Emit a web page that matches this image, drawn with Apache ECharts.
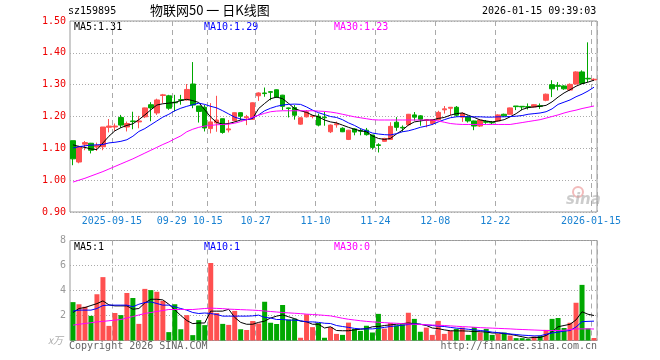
<!DOCTYPE html>
<html><head><meta charset="utf-8">
<script src="https://cdn.jsdelivr.net/npm/echarts@6/dist/echarts.min.js"></script>
<style>html,body{margin:0;padding:0;background:#fff}#c{width:660px;height:360px}</style>
</head><body><div id="c"></div>
<script>
const dates = ['2025-09-04','2025-09-05','2025-09-08','2025-09-09','2025-09-10','2025-09-11','2025-09-12','2025-09-15','2025-09-16','2025-09-17','2025-09-18','2025-09-19','2025-09-22','2025-09-23','2025-09-24','2025-09-25','2025-09-26','2025-09-29','2025-09-30','2025-10-09','2025-10-10','2025-10-13','2025-10-14','2025-10-15','2025-10-16','2025-10-17','2025-10-20','2025-10-21','2025-10-22','2025-10-23','2025-10-24','2025-10-27','2025-10-28','2025-10-29','2025-10-30','2025-10-31','2025-11-03','2025-11-04','2025-11-05','2025-11-06','2025-11-07','2025-11-10','2025-11-11','2025-11-12','2025-11-13','2025-11-14','2025-11-17','2025-11-18','2025-11-19','2025-11-20','2025-11-21','2025-11-24','2025-11-25','2025-11-26','2025-11-27','2025-11-28','2025-12-01','2025-12-02','2025-12-03','2025-12-04','2025-12-05','2025-12-08','2025-12-09','2025-12-10','2025-12-11','2025-12-12','2025-12-15','2025-12-16','2025-12-17','2025-12-18','2025-12-19','2025-12-22','2025-12-23','2025-12-24','2025-12-25','2025-12-26','2025-12-29','2025-12-30','2025-12-31','2026-01-05','2026-01-06','2026-01-07','2026-01-08','2026-01-09','2026-01-12','2026-01-13','2026-01-14','2026-01-15'];
const opens = [1.124,1.057,1.113,1.116,1.104,1.105,1.166,1.167,1.197,1.167,1.186,1.183,1.199,1.237,1.211,1.266,1.265,1.245,1.253,1.252,1.302,1.233,1.229,1.162,1.180,1.193,1.158,1.187,1.212,1.196,1.191,1.265,1.274,1.278,1.284,1.267,1.227,1.228,1.176,1.199,1.200,1.201,1.198,1.152,1.174,1.163,1.128,1.161,1.156,1.157,1.142,1.111,1.122,1.128,1.182,1.166,1.174,1.205,1.202,1.188,1.178,1.190,1.221,1.226,1.229,1.198,1.199,1.186,1.170,1.184,1.182,1.186,1.207,1.207,1.233,1.232,1.231,1.230,1.234,1.251,1.300,1.297,1.296,1.283,1.302,1.340,1.320,1.315];
const closes = [1.067,1.106,1.118,1.094,1.109,1.167,1.170,1.170,1.173,1.178,1.184,1.186,1.227,1.227,1.252,1.268,1.226,1.243,1.251,1.285,1.236,1.216,1.164,1.183,1.189,1.150,1.161,1.212,1.201,1.199,1.243,1.274,1.272,1.276,1.261,1.232,1.225,1.204,1.196,1.215,1.202,1.173,1.196,1.173,1.177,1.152,1.157,1.151,1.154,1.143,1.103,1.109,1.131,1.169,1.166,1.164,1.207,1.198,1.191,1.190,1.190,1.213,1.224,1.229,1.204,1.210,1.186,1.170,1.189,1.182,1.180,1.205,1.202,1.227,1.231,1.230,1.229,1.237,1.232,1.270,1.287,1.295,1.287,1.301,1.340,1.304,1.318,1.317];
const lows = [1.047,1.053,1.094,1.084,1.092,1.094,1.150,1.155,1.165,1.153,1.160,1.163,1.195,1.185,1.205,1.242,1.221,1.216,1.237,1.250,1.226,1.181,1.153,1.147,1.152,1.146,1.150,1.184,1.189,1.173,1.189,1.249,1.262,1.251,1.258,1.220,1.197,1.190,1.174,1.197,1.194,1.169,1.171,1.148,1.165,1.151,1.126,1.141,1.141,1.140,1.096,1.087,1.121,1.128,1.155,1.152,1.171,1.187,1.171,1.166,1.173,1.188,1.209,1.204,1.199,1.183,1.181,1.157,1.167,1.177,1.176,1.185,1.199,1.206,1.220,1.220,1.222,1.229,1.224,1.248,1.261,1.282,1.284,1.280,1.300,1.303,1.308,1.313];
const highs = [1.124,1.108,1.123,1.117,1.118,1.167,1.192,1.178,1.205,1.184,1.215,1.202,1.228,1.245,1.256,1.271,1.268,1.268,1.268,1.302,1.371,1.233,1.236,1.242,1.265,1.193,1.189,1.213,1.213,1.205,1.244,1.276,1.291,1.280,1.285,1.268,1.228,1.236,1.197,1.220,1.205,1.209,1.215,1.175,1.184,1.166,1.158,1.163,1.163,1.164,1.142,1.116,1.133,1.182,1.198,1.172,1.208,1.214,1.204,1.191,1.192,1.218,1.233,1.229,1.233,1.213,1.203,1.187,1.191,1.189,1.186,1.207,1.209,1.228,1.233,1.232,1.241,1.238,1.241,1.272,1.314,1.308,1.298,1.304,1.342,1.345,1.433,1.320];
const ma5 = [1.111,1.106,1.103,1.098,1.096,1.117,1.138,1.155,1.165,1.172,1.177,1.190,1.205,1.221,1.236,1.240,1.242,1.244,1.250,1.254,1.250,1.244,1.221,1.198,1.181,1.176,1.178,1.183,1.189,1.190,1.194,1.225,1.241,1.256,1.261,1.256,1.241,1.225,1.218,1.213,1.204,1.199,1.189,1.183,1.180,1.173,1.166,1.160,1.155,1.152,1.139,1.131,1.128,1.131,1.145,1.157,1.173,1.183,1.186,1.189,1.189,1.194,1.197,1.204,1.209,1.211,1.204,1.197,1.189,1.186,1.183,1.186,1.190,1.199,1.209,1.222,1.228,1.230,1.232,1.235,1.246,1.261,1.274,1.284,1.295,1.303,1.308,1.314];
const ma10 = [1.101,1.105,1.108,1.110,1.111,1.112,1.117,1.119,1.122,1.127,1.138,1.153,1.162,1.174,1.186,1.198,1.207,1.218,1.226,1.232,1.237,1.242,1.238,1.232,1.227,1.218,1.208,1.198,1.192,1.190,1.195,1.205,1.218,1.226,1.232,1.236,1.238,1.239,1.238,1.230,1.220,1.212,1.206,1.200,1.197,1.190,1.180,1.172,1.162,1.155,1.148,1.145,1.143,1.142,1.146,1.152,1.155,1.160,1.166,1.170,1.175,1.183,1.190,1.196,1.199,1.200,1.199,1.199,1.199,1.198,1.198,1.199,1.199,1.200,1.201,1.203,1.207,1.209,1.211,1.215,1.224,1.238,1.245,1.252,1.262,1.270,1.280,1.292];
const ma30 = [0.994,1.000,1.006,1.013,1.020,1.027,1.035,1.043,1.051,1.059,1.067,1.076,1.085,1.094,1.103,1.112,1.120,1.130,1.139,1.152,1.160,1.166,1.170,1.172,1.174,1.175,1.176,1.179,1.184,1.190,1.198,1.204,1.210,1.215,1.217,1.218,1.218,1.218,1.218,1.218,1.218,1.217,1.216,1.214,1.211,1.207,1.203,1.199,1.196,1.193,1.190,1.189,1.189,1.189,1.189,1.189,1.189,1.189,1.189,1.189,1.189,1.186,1.182,1.178,1.176,1.175,1.175,1.175,1.175,1.175,1.175,1.175,1.175,1.175,1.178,1.181,1.184,1.187,1.190,1.195,1.200,1.205,1.211,1.216,1.220,1.225,1.229,1.233];
const volumes = [3.07,2.90,2.70,1.97,3.70,5.07,1.17,2.20,2.03,3.80,3.40,1.33,4.13,4.03,3.90,3.17,0.67,2.90,0.90,2.03,0.43,1.63,1.23,6.20,2.20,1.33,1.25,2.37,0.90,0.84,1.56,1.36,3.10,1.42,1.32,2.84,1.68,1.75,0.22,2.10,1.07,1.40,0.22,1.07,0.53,0.45,1.43,0.92,0.77,1.18,0.64,2.13,0.95,1.40,1.20,1.30,2.22,1.73,0.70,1.03,0.45,1.57,0.53,0.77,0.93,1.04,0.45,1.07,0.64,0.93,0.45,0.53,0.64,0.40,0.19,0.19,0.13,0.32,0.37,0.85,1.73,1.80,1.00,1.42,3.02,4.45,0.97,0.20];
const vma5 = [2.24,2.56,2.64,2.80,2.95,3.17,2.85,2.77,2.77,2.77,2.50,2.56,3.00,3.30,3.30,3.25,2.90,2.45,2.00,1.60,1.35,1.40,1.40,2.35,2.35,2.35,2.50,1.85,1.45,1.30,1.30,1.45,1.55,1.80,1.95,2.05,1.90,1.75,1.55,1.50,1.30,1.30,1.00,1.10,0.80,0.78,0.78,0.85,0.90,0.95,1.10,1.12,1.20,1.25,1.30,1.35,1.40,1.35,1.30,1.20,1.00,0.95,0.85,0.78,0.77,0.77,0.75,0.72,0.70,0.68,0.60,0.60,0.55,0.50,0.40,0.30,0.20,0.25,0.24,0.40,0.70,1.10,1.20,1.30,1.65,2.30,2.10,2.00];
const vma10 = [2.35,2.43,2.43,2.43,2.56,2.80,2.83,2.83,2.83,2.83,2.70,2.90,3.04,3.09,2.96,2.83,2.83,2.69,2.56,2.43,2.24,2.16,2.20,2.16,2.08,1.95,1.95,1.95,1.95,1.95,1.97,2.03,1.85,1.80,1.68,1.68,1.63,1.63,1.58,1.49,1.49,1.45,1.38,1.36,1.20,1.12,1.05,0.97,0.93,0.93,0.93,0.98,1.05,1.12,1.17,1.22,1.28,1.33,1.30,1.25,1.20,1.15,1.12,1.05,0.99,0.95,0.90,0.85,0.80,0.75,0.67,0.63,0.58,0.52,0.48,0.43,0.40,0.37,0.38,0.50,0.60,0.67,0.75,0.80,1.08,1.51,1.53,1.55];
const vma30 = [1.23,1.30,1.36,1.42,1.49,1.53,1.58,1.63,1.68,1.80,1.92,2.04,2.16,2.24,2.32,2.40,2.48,2.48,2.48,2.48,2.48,2.52,2.56,2.59,2.57,2.55,2.51,2.49,2.47,2.45,2.43,2.40,2.36,2.32,2.28,2.24,2.21,2.18,2.15,2.11,2.08,2.05,2.01,1.97,1.88,1.78,1.70,1.64,1.58,1.53,1.49,1.46,1.43,1.40,1.38,1.35,1.32,1.30,1.28,1.26,1.24,1.22,1.20,1.17,1.14,1.11,1.09,1.06,1.03,1.01,0.99,0.97,0.95,0.93,0.90,0.88,0.86,0.84,0.82,0.80,0.80,0.80,0.82,0.87,0.93,0.93,0.93,0.92];
const tickIdx = [7,17,23,31,41,51,61,71,87];
const tickText = ['2025-09-15','09-29','10-15','10-27','11-10','11-24','12-08','12-22','2026-01-15'];
const priceTicks = [0.9,1.0,1.1,1.2,1.3,1.4,1.5];
const volTicks = [0,2,4,6,8];

const RED = '#ff5050', GREEN = '#00a800';
const MONO = 'DejaVu Sans Mono';
const candles = dates.map((d,i)=>[opens[i],closes[i],lows[i],highs[i]]);
const volData = volumes.map((v,i)=>({value:v,itemStyle:{color: closes[i]>=opens[i]?RED:GREEN}}));
const isTick = i => tickIdx.indexOf(i) >= 0;
const vSplit = {show:true, interval:(i)=>isTick(i), lineStyle:{color:'#aaa', type:[5,4], width:1}};
const hSplit = {show:true, lineStyle:{color:'#aaa', type:[1,2], width:1}};
function line(name, data, color, xi){
  return {type:'line', name, data, xAxisIndex:xi, yAxisIndex:xi, symbol:'none', silent:true,
    lineStyle:{color, width:1}, itemStyle:{color}, animation:false, z:5};
}
const chart = echarts.init(document.getElementById('c'), null, {renderer:'canvas'});
chart.setOption({
  animation:false,
  backgroundColor:'#fff',
  grid:[
    {left:70, top:21, width:527, height:191, show:true, borderColor:'#999', borderWidth:1},
    {left:70, top:240.5, width:527, height:100, show:true, borderColor:'#999', borderWidth:1}
  ],
  xAxis:[
    {type:'category', data:dates, gridIndex:0, boundaryGap:true,
     axisLine:{show:false}, axisTick:{show:false},
     axisLabel:{interval:(i)=>isTick(i), formatter:(v,i)=>tickText[tickIdx.indexOf(i)],
       color:'#1a82d2', fontFamily:MONO, fontSize:10, margin:4, padding:[0,6,0,0]},
     splitLine:vSplit},
    {type:'category', data:dates, gridIndex:1, boundaryGap:true,
     axisLine:{show:false}, axisTick:{show:false}, axisLabel:{show:false},
     splitLine:vSplit}
  ],
  yAxis:[
    {type:'value', gridIndex:0, min:priceTicks[0], max:priceTicks[priceTicks.length-1], interval:0.1,
     axisLine:{show:false}, axisTick:{show:false},
     axisLabel:{color:'#ee0000', fontFamily:MONO, fontSize:10, margin:4, formatter:v=>v.toFixed(2)},
     splitLine:hSplit},
    {type:'value', gridIndex:1, min:volTicks[0], max:volTicks[volTicks.length-1], interval:2,
     axisLine:{show:false}, axisTick:{show:false},
     axisLabel:{color:'#999', fontFamily:MONO, fontSize:10, margin:4, formatter:v=>v===0?'':String(v)},
     splitLine:hSplit}
  ],
  series:[
    {type:'candlestick', data:candles, xAxisIndex:0, yAxisIndex:0, barWidth:5, silent:true,
     itemStyle:{color:RED, color0:GREEN, borderColor:RED, borderColor0:GREEN, borderWidth:1}},
    line('MA5', ma5, '#000000', 0),
    line('MA10', ma10, '#0000ff', 0),
    line('MA30', ma30, '#ff00ff', 0),
    {type:'bar', data:volData, xAxisIndex:1, yAxisIndex:1, barWidth:5, silent:true},
    line('VMA5', vma5, '#000000', 1),
    line('VMA10', vma10, '#0000ff', 1),
    line('VMA30', vma30, '#ff00ff', 1)
  ],
  graphic:[
    {type:'text', left:68, top:6, style:{text:'sz159895', font:'10px "DejaVu Sans Mono"', fill:'#000'}},
    {type:'text', left:150, top:4, style:{text:'物联网50 一 日K线图', font:'13px "Noto Sans CJK SC"', fill:'#000'}},
    {type:'text', left:482, top:6, style:{text:'2026-01-15 09:39:03', font:'10px "DejaVu Sans Mono"', fill:'#000'}},
    {type:'text', left:74, top:22, style:{text:'MA5:1.31', font:'10px "DejaVu Sans Mono"', fill:'#000'}},
    {type:'text', left:204, top:22, style:{text:'MA10:1.29', font:'10px "DejaVu Sans Mono"', fill:'#0000ff'}},
    {type:'text', left:334, top:22, style:{text:'MA30:1.23', font:'10px "DejaVu Sans Mono"', fill:'#ff00ff'}},
    {type:'text', left:74, top:242, style:{text:'MA5:1', font:'10px "DejaVu Sans Mono"', fill:'#000'}},
    {type:'text', left:204, top:242, style:{text:'MA10:1', font:'10px "DejaVu Sans Mono"', fill:'#0000ff'}},
    {type:'text', left:334, top:242, style:{text:'MA30:0', font:'10px "DejaVu Sans Mono"', fill:'#ff00ff'}},
    {type:'text', left:48, top:335, style:{text:'x万', font:'italic 10px "Noto Sans CJK SC"', fill:'#aaa'}},
    {type:'text', left:69, top:341, style:{text:'Copyright 2026 SINA.COM', font:'10px "DejaVu Sans Mono"', fill:'#666'}},
    {type:'text', right:63, top:341, style:{text:'http://finance.sina.com.cn', font:'10px "DejaVu Sans Mono"', fill:'#666'}},
    {type:'circle', shape:{cx:578, cy:192, r:5}, style:{fill:'none', stroke:'rgba(230,120,120,0.5)', lineWidth:2}},
    {type:'text', left:566, top:193, style:{text:'sina', font:'italic bold 15px "DejaVu Sans"', fill:'rgba(170,170,170,0.6)'}}
  ]
});
</script></body></html>
